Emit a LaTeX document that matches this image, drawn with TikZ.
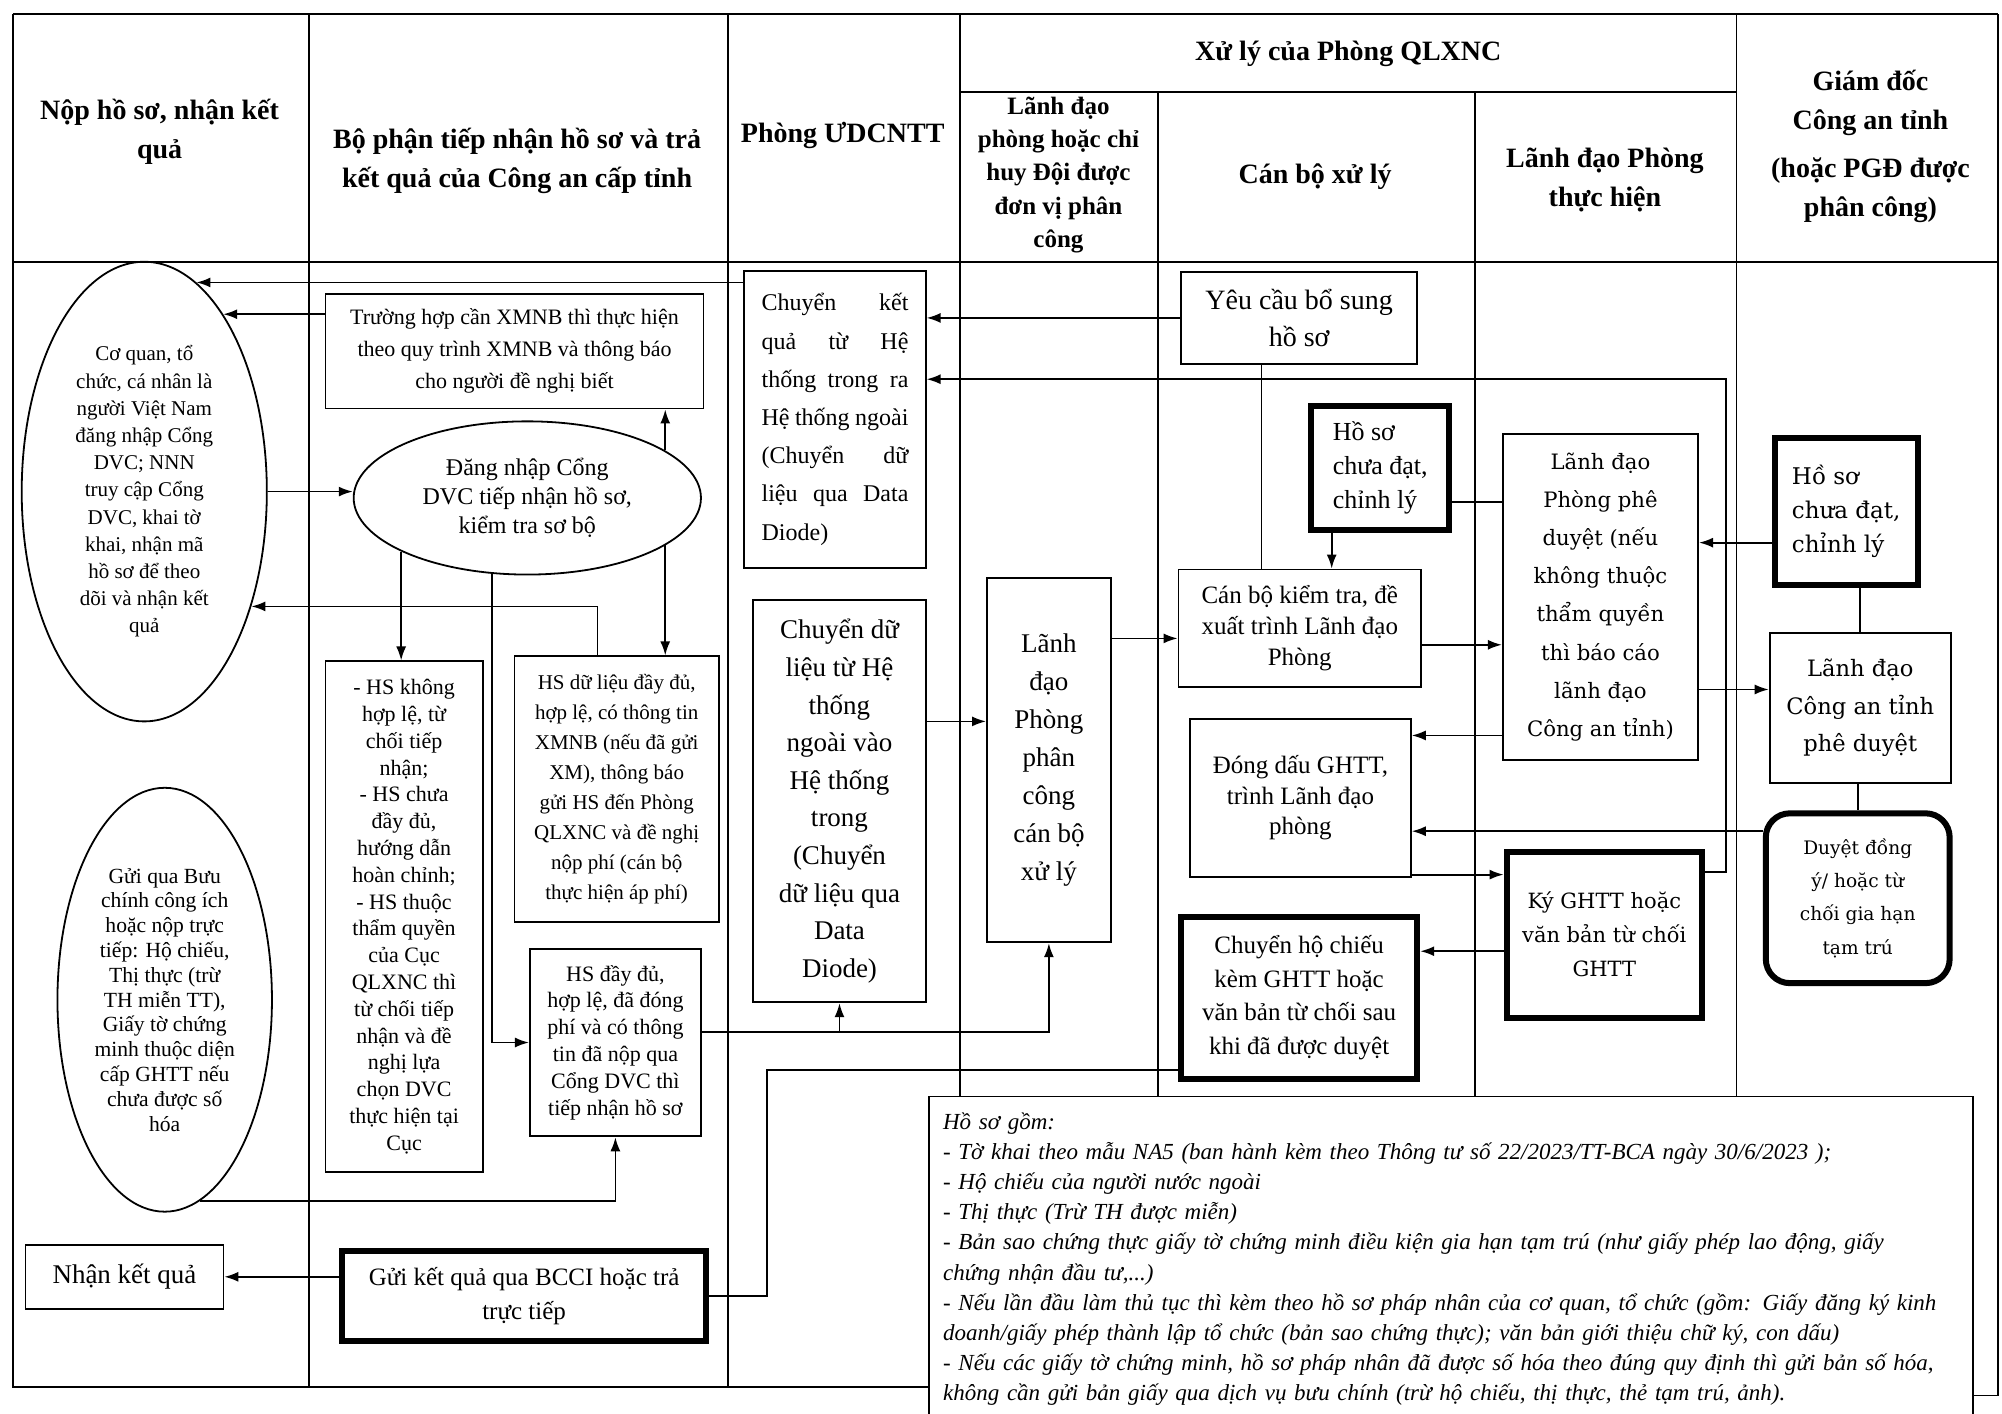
\documentclass[tikz,border=0pt]{standalone}
\usepackage{fontspec}
\setmainfont{Liberation Serif}
\newfontfamily\dejavu{DejaVu Serif}
\usetikzlibrary{arrows.meta,shapes.geometric}
\def\pxu{0.6384pt}
\newcommand\fsz[2]{\fontsize{#1}{#2}\selectfont}
\newcommand\jl[1]{\makebox[504pt][s]{#1}}
\newcommand\jk[1]{\makebox[73.4pt][s]{#1}}
\tikzset{
  box/.style={draw, line width=0.9pt, align=center, inner sep=0pt},
  thickbox/.style={box, line width=3pt},
  oval/.style={draw, ellipse, line width=0.9pt, align=center, inner sep=0pt},
  arr/.style={-{Latex[length=7pt,width=5pt]}, line width=0.9pt},
  lin/.style={line width=0.9pt},
  grid/.style={line width=0.9pt},
  hdr/.style={font=\bfseries\fsz{14}{19.5}, align=center}
}

\begin{document}
\begin{tikzpicture}[x=\pxu, y=-\pxu]
  \useasboundingbox (0,0) rectangle (1568,1107);
  \clip (0,0) rectangle (1568,1107);

  % khung bang
  \draw[grid] (10,11) -- (1565,11);
  \draw[grid] (10,11) -- (10,1086) -- (727,1086);
  \draw[grid] (1565,11) -- (1565,1093) -- (1545,1093);
  \draw[grid] (10,205) -- (1565,205);
  \draw[grid] (752,72) -- (1360,72);
  \foreach \x in {242,570} \draw[grid] (\x,11) -- (\x,1086);
  \foreach \x in {752,1360} \draw[grid] (\x,11) -- (\x,858);
  \foreach \x in {907,1155} \draw[grid] (\x,72) -- (\x,858);

  % tieu de cot
  \node[hdr] (h1) at (125,103) {Nộp hồ sơ, nhận kết\\ quả};
  \node[hdr] (h2) at (405,126) {Bộ phận tiếp nhận hồ sơ và trả\\ kết quả của Công an cấp tỉnh};
  \node[hdr] (h3) at (660,106) {Phòng ƯDCNTT};
  \node[hdr] (h4) at (1056,42) {Xử lý của Phòng QLXNC};
  \node[hdr, font=\bfseries\fsz{12.5}{16.6}] (h5) at (829,137) {Lãnh đạo\\ phòng hoặc chỉ\\ huy Đội được\\ đơn vị phân\\ công};
  \node[hdr] (h6) at (1030,138) {Cán bộ xử lý};
  \node[hdr] (h7) at (1257,141) {Lãnh đạo Phòng\\ thực hiện};
  \node[hdr] (h8) at (1465,115) {Giám đốc\\ Công an tỉnh\\[4.5pt] (hoặc PGĐ được\\ phân công)};

  % cot 1
  \node[oval, minimum width=192*\pxu, minimum height=360*\pxu, font=\fsz{10.5}{13.6}] (cq) at (113,385)
    {Cơ quan, tổ\\ chức, cá nhân là\\ người Việt Nam\\ đăng nhập Cổng\\ DVC; NNN\\ truy cập Cổng\\ DVC, khai tờ\\ khai, nhận mã\\ hồ sơ để theo\\ dõi và nhận kết\\ quả};
  \node[oval, minimum width=168*\pxu, minimum height=332*\pxu, font=\fsz{10.8}{12.4}] (bc) at (129,783)
    {Gửi qua Bưu\\ chính công ích\\ hoặc nộp trực\\ tiếp: Hộ chiếu,\\ Thị thực (trừ\\ TH miễn TT),\\ Giấy tờ chứng\\ minh thuộc diện\\ cấp GHTT nếu\\ chưa được số\\ hóa};
  \node[box, minimum width=155*\pxu, minimum height=50*\pxu, font=\fsz{13.5}{16}] (nkq) at (97.5,1000) {Nhận kết quả};

  % cot 2
  \node[box, minimum width=296*\pxu, minimum height=90*\pxu, font=\fsz{11}{16}] (thxm) at (403,275)
    {Trường hợp cần XMNB thì thực hiện\\ theo quy trình XMNB và thông báo\\ cho người đề nghị biết};
  \node[oval, minimum width=272*\pxu, minimum height=120*\pxu, font=\fsz{12}{14.4}] (dn) at (413,390)
    {Đăng nhập Cổng\\ DVC tiếp nhận hồ sơ,\\ kiểm tra sơ bộ};
  \node[box, minimum width=123*\pxu, minimum height=400*\pxu, font=\fsz{11}{13.4}] (hskhl) at (316.5,718)
    {- HS không\\ hợp lệ, từ\\ chối tiếp\\ nhận;\\ - HS chưa\\ đầy đủ,\\ hướng dẫn\\ hoàn chỉnh;\\ - HS thuộc\\ thẩm quyền\\ của Cục\\ QLXNC thì\\ từ chối tiếp\\ nhận và đề\\ nghị lựa\\ chọn DVC\\ thực hiện tại\\ Cục};
  \node[box, minimum width=160*\pxu, minimum height=208*\pxu, font=\fsz{10.5}{15}] (hsdl) at (483,618)
    {HS dữ liệu đầy đủ,\\ hợp lệ, có thông tin\\ XMNB (nếu đã gửi\\ XM), thông báo\\ gửi HS đến Phòng\\ QLXNC và đề nghị\\ nộp phí (cán bộ\\ thực hiện áp phí)};
  \node[box, minimum width=134*\pxu, minimum height=147*\pxu, font=\fsz{11}{13.4}] (hsdd) at (482,816.5)
    {HS đầy đủ,\\ hợp lệ, đã đóng\\ phí và có thông\\ tin đã nộp qua\\ Cổng DVC thì\\ tiếp nhận hồ sơ};
  \node[thickbox, minimum width=285*\pxu, minimum height=70*\pxu, font=\fsz{12.5}{17}] (gkq) at (410.5,1015)
    {Gửi kết quả qua BCCI hoặc trả\\ trực tiếp};

  % cot 3
  \node[box, minimum width=142*\pxu, minimum height=233*\pxu, align=left, font=\fsz{12}{19.1}] (ckq) at (654,328.5)
    {\jk{Chuyển kết}\\ \jk{quả từ Hệ}\\ \jk{thống trong ra}\\ \jk{Hệ thống ngoài}\\ \jk{(Chuyển dữ}\\ \jk{liệu qua Data}\\ \makebox[73.4pt][l]{Diode)}};
  \node[box, minimum width=135*\pxu, minimum height=315*\pxu, font=\fsz{13.5}{18.8}] (cdl) at (657.5,627.5)
    {Chuyển dữ\\ liệu từ Hệ\\ thống\\ ngoài vào\\ Hệ thống\\ trong\\ (Chuyển\\ dữ liệu qua\\ Data\\ Diode)};

  % cot 4
  \node[box, minimum width=97*\pxu, minimum height=285*\pxu, font=\fsz{13.5}{19}] (ldpc) at (821.5,595.5)
    {Lãnh\\ đạo\\ Phòng\\ phân\\ công\\ cán bộ\\ xử lý};

  % cot 5
  \node[box, minimum width=185*\pxu, minimum height=72*\pxu, font=\fsz{14}{18.5}] (ycbs) at (1017.5,249) {Yêu cầu bổ sung\\ hồ sơ};
  \node[thickbox, align=left, minimum width=108*\pxu, minimum height=97*\pxu, font=\fsz{13}{17}] (hscd) at (1081,366.5) {Hồ sơ\\ chưa đạt,\\ chỉnh lý};
  \node[box, minimum width=190*\pxu, minimum height=92*\pxu, font=\fsz{12.5}{15.6}] (cbkt) at (1018,492)
    {Cán bộ kiểm tra, đề\\ xuất trình Lãnh đạo\\ Phòng};
  \node[box, minimum width=173*\pxu, minimum height=124*\pxu, font=\fsz{12.5}{15.3}] (dd) at (1018.5,625)
    {Đóng dấu GHTT,\\ trình Lãnh đạo\\ phòng};
  \node[thickbox, minimum width=185*\pxu, minimum height=127*\pxu, font=\fsz{12.5}{16.8}] (chc) at (1017.5,781.5)
    {Chuyển hộ chiếu\\ kèm GHTT hoặc\\ văn bản từ chối sau\\ khi đã được duyệt};

  % cot 6
  \node[box, minimum width=153*\pxu, minimum height=255*\pxu, font=\dejavu\fsz{10.6}{19.1}] (ldpd) at (1253.5,467.5)
    {Lãnh đạo\\ Phòng phê\\ duyệt (nếu\\ không thuộc\\ thẩm quyền\\ thì báo cáo\\ lãnh đạo\\ Công an tỉnh)};
  \node[thickbox, minimum width=153*\pxu, minimum height=130*\pxu, font=\dejavu\fsz{10.5}{17}] (ky) at (1256.5,732)
    {Ký GHTT hoặc\\ văn bản từ chối\\ GHTT};

  % cot 7
  \node[thickbox, align=left, minimum width=112*\pxu, minimum height=115*\pxu, font=\dejavu\fsz{11.5}{17.2}] (hscdgd) at (1446,400.5)
    {Hồ sơ\\ chưa đạt,\\ chỉnh lý};
  \node[box, minimum width=142*\pxu, minimum height=117*\pxu, font=\dejavu\fsz{11.3}{18.8}] (ldca) at (1457,554.5)
    {Lãnh đạo\\ Công an tỉnh\\ phê duyệt};
  \node[thickbox, rounded corners=12pt, minimum width=144*\pxu, minimum height=133*\pxu, font=\dejavu\fsz{9.3}{16.6}] (dy) at (1455,703.5)
    {Duyệt đồng\\ ý/ hoặc từ\\ chối gia hạn\\ tạm trú};

  % ghi chu ho so
  \node[box, anchor=north west, align=left, inner xsep=7pt, inner ysep=8pt, text width=508pt, font=\itshape\fsz{11.5}{15.1}] (note) at (727,858)
    {Hồ sơ gồm:\\
     - Tờ khai theo mẫu NA5 (ban hành kèm theo Thông tư số 22/2023/TT-BCA ngày 30/6/2023 );\\
     - Hộ chiếu của người nước ngoài\\
     - Thị thực (Trừ TH được miễn)\\
     \jl{- Bản sao chứng thực giấy tờ chứng minh điều kiện gia hạn tạm trú (như giấy phép lao động, giấy}\\
     chứng nhận đầu tư,...)\\
     \jl{- Nếu lần đầu làm thủ tục thì kèm theo hồ sơ pháp nhân của cơ quan, tổ chức (gồm: Giấy đăng ký kinh}\\
     doanh/giấy phép thành lập tổ chức (bản sao chứng thực); văn bản giới thiệu chữ ký, con dấu)\\
     \jl{- Nếu các giấy tờ chứng minh, hồ sơ pháp nhân đã được số hóa theo đúng quy định thì gửi bản số hóa,}\\
     không cần gửi bản giấy qua dịch vụ bưu chính (trừ hộ chiếu, thị thực, thẻ tạm trú, ảnh).\\[20pt]\mbox{}};

  % luong xu ly
  \draw[arr] (ckq.west |- cq.76) -- (cq.76);
  \draw[arr] (thxm.west |- cq.66) -- (cq.66);
  \draw[arr] (cq.east) -- (cq.east -| dn.west);
  \draw[arr] (dn.19) -- (dn.19 |- thxm.south);
  \draw[arr] (dn.-19) -- (dn.-19 |- hsdl.north);
  \draw[arr] (dn.-157) -- (dn.-157 |- hskhl.north);
  \draw[arr] (dn.-115) |- (hsdd.west);
  \draw[arr] (468,0 |- hsdl.north) |- (cq.-47);
  \draw[arr] (bc.-80) -| (hsdd.south);
  \draw[arr] (hsdd.east |- 0,808) -| (ldpc.south);
  \draw[arr] (cdl.south |- 0,808) -- (cdl.south);
  \draw[arr] (gkq.west |- nkq.east) -- (nkq.east);
  \draw[lin] (chc.west |- 0,838) -| (601,0 |- gkq.east) -- (gkq.east);
  \draw[arr] (ycbs.west) -- (ycbs.west -| ckq.east);
  \draw[arr] (ky.east |- 0,683) -| (1352,297) -- (ckq.east |- 0,297);
  \draw[arr] (1043,0 |- hscd.south) -- (1043,0 |- cbkt.north);
  \draw[lin] (988,0 |- ycbs.south) -- (988,0 |- cbkt.north);
  \draw[lin] (hscd.east |- 0,393) -- (ldpd.west |- 0,393);
  \draw[arr] (ldpc.east |- 0,500) -- (cbkt.west |- 0,500);
  \draw[arr] (cdl.east |- 0,565) -- (ldpc.west |- 0,565);
  \draw[arr] (cbkt.east |- 0,505) -- (ldpd.west |- 0,505);
  \draw[arr] (ldpd.west |- 0,576) -- (dd.east |- 0,576);
  \draw[arr] (ldpd.east |- 0,540) -- (ldca.west |- 0,540);
  \draw[arr] (hscdgd.west |- 0,425) -- (ldpd.east |- 0,425);
  \draw[lin] (ldca.north |- hscdgd.south) -- (ldca.north);
  \draw[lin] (dy.north |- ldca.south) -- (dy.north);
  \draw[arr] (dy.west |- 0,651) -- (dd.east |- 0,651);
  \draw[arr] (dd.east |- 0,685) -- (ky.west |- 0,685);
  \draw[arr] (ky.west |- 0,745) -- (chc.east |- 0,745);
\end{tikzpicture}
\end{document}
